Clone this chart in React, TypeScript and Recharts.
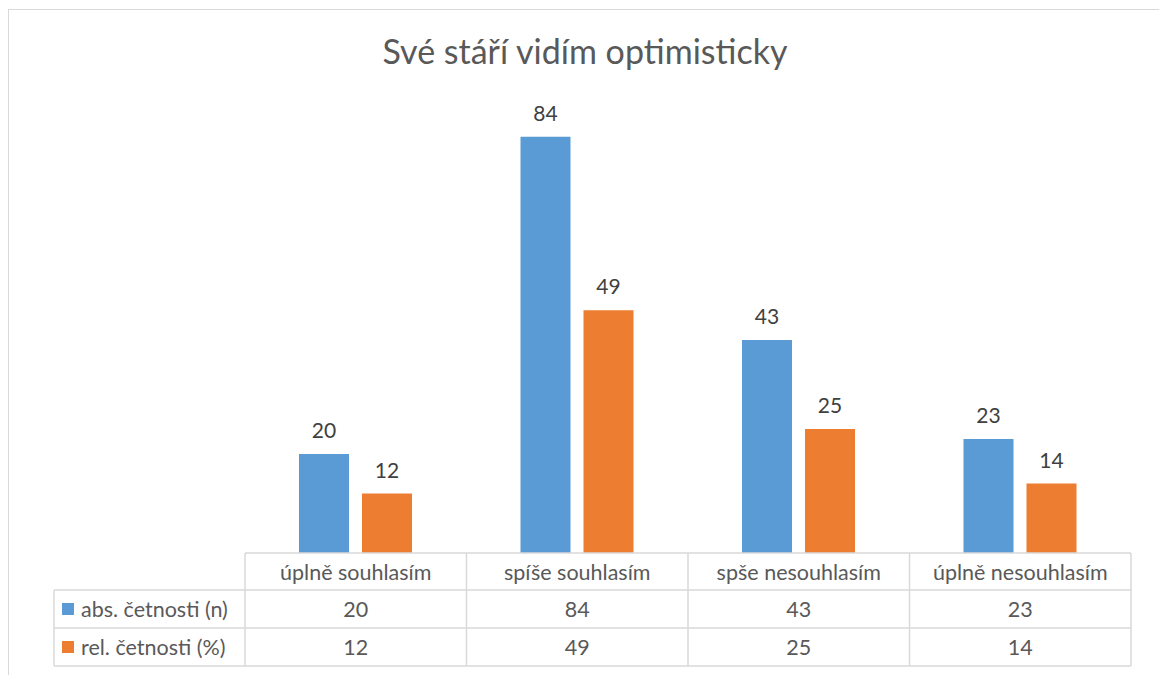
import { BarChart, Bar, XAxis, YAxis, LabelList } from 'recharts'

const categories = ['úplně souhlasím', 'spíše souhlasím', 'spše nesouhlasím', 'úplně nesouhlasím']
const absValues = [20, 84, 43, 23]
const relValues = [12, 49, 25, 14]
const seriesNames = ['abs. četnosti (n)', 'rel. četnosti (%)']

const BLUE = '#5B9BD5'
const ORANGE = '#ED7D31'
const GRID = '#D9D9D9'
const TEXT = '#595959'
const FONT = 'Lato, "Open Sans", sans-serif'

const data = categories.map((name, i) => ({ name, abs: absValues[i], rel: relValues[i] }))

const HEADER_H = 37
const ROW_H = 38
const LEGEND_W = 191

function TableTick(props: any) {
  const { x, y, payload, index } = props
  const band = (props.width ?? 886) / categories.length
  const left = x - band / 2
  const right = x + band / 2
  const r1 = y + HEADER_H
  const r2 = r1 + ROW_H
  const r3 = r2 + ROW_H
  const i = payload.index ?? index
  return (
    <g fontFamily={FONT} fontSize={21.5} fill={TEXT}>
      <line x1={right} y1={y} x2={right} y2={r3} stroke={GRID} strokeWidth={1.5} />
      <line x1={left} y1={r1} x2={right} y2={r1} stroke={GRID} strokeWidth={1.5} />
      <line x1={left} y1={r2} x2={right} y2={r2} stroke={GRID} strokeWidth={1.5} />
      <line x1={left} y1={r3} x2={right} y2={r3} stroke={GRID} strokeWidth={1.5} />
      <text x={x} y={y + HEADER_H / 2} textAnchor="middle" dominantBaseline="central">{payload.value}</text>
      <text x={x} y={r1 + ROW_H / 2} textAnchor="middle" dominantBaseline="central">{absValues[i]}</text>
      <text x={x} y={r2 + ROW_H / 2} textAnchor="middle" dominantBaseline="central">{relValues[i]}</text>
      {i === 0 && (
        <g>
          <line x1={left} y1={y} x2={left} y2={r3} stroke={GRID} strokeWidth={1.5} />
          <line x1={left - LEGEND_W} y1={r1} x2={left} y2={r1} stroke={GRID} strokeWidth={1.5} />
          <line x1={left - LEGEND_W} y1={r2} x2={left} y2={r2} stroke={GRID} strokeWidth={1.5} />
          <line x1={left - LEGEND_W} y1={r3} x2={left} y2={r3} stroke={GRID} strokeWidth={1.5} />
          <line x1={left - LEGEND_W} y1={r1} x2={left - LEGEND_W} y2={r3} stroke={GRID} strokeWidth={1.5} />
          <rect x={left - LEGEND_W + 8} y={r1 + ROW_H / 2 - 6} width={12} height={12} fill={BLUE} />
          <text x={left - LEGEND_W + 27} y={r1 + ROW_H / 2} dominantBaseline="central">{seriesNames[0]}</text>
          <rect x={left - LEGEND_W + 8} y={r2 + ROW_H / 2 - 6} width={12} height={12} fill={ORANGE} />
          <text x={left - LEGEND_W + 27} y={r2 + ROW_H / 2} dominantBaseline="central">{seriesNames[1]}</text>
        </g>
      )}
    </g>
  )
}

export default function App() {
  return (
    <div style={{ position: 'relative', width: 1159, height: 675, overflow: 'hidden', background: '#fff' }}>
      <style>{'body{margin:0}'}</style>
      <div
        style={{
          position: 'absolute',
          left: 8,
          top: 9,
          width: 1170,
          height: 700,
          border: `1.5px solid ${GRID}`,
        }}
      />
      <div
        style={{
          position: 'absolute',
          top: 30,
          left: 0,
          width: 1170,
          textAlign: 'center',
          fontFamily: FONT,
          fontSize: 34,
          color: TEXT,
        }}
      >
        Své stáří vidím optimisticky
      </div>
      <div style={{ position: 'absolute', left: 0, top: 0 }}>
        <BarChart
          width={1159}
          height={675}
          data={data}
          margin={{ top: 107, right: 28, left: 245, bottom: 8 }}
          barSize={50}
          barGap={13}
        >
          <XAxis
            dataKey="name"
            height={114}
            interval={0}
            tickLine={false}
            tickSize={0}
            tickMargin={0}
            axisLine={{ stroke: GRID, strokeWidth: 1.5 }}
            tick={<TableTick />}
          />
          <YAxis hide domain={[0, 90]} />
          <Bar dataKey="abs" fill={BLUE} isAnimationActive={false}>
            <LabelList dataKey="abs" position="top" offset={16} fill="#404040" fontSize={21} fontFamily={FONT} />
          </Bar>
          <Bar dataKey="rel" fill={ORANGE} isAnimationActive={false}>
            <LabelList dataKey="rel" position="top" offset={16} fill="#404040" fontSize={21} fontFamily={FONT} />
          </Bar>
        </BarChart>
      </div>
    </div>
  )
}
